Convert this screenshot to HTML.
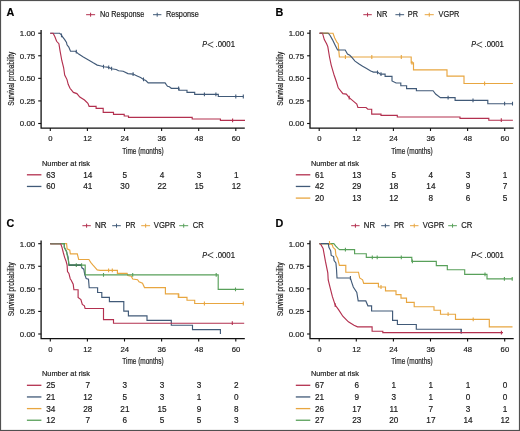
<!DOCTYPE html><html><head><meta charset="utf-8"><style>html,body{margin:0;padding:0;background:#fff;width:520px;height:431px;overflow:hidden}svg text{font-family:"Liberation Sans", sans-serif;stroke:#1a1a1a;stroke-width:0.18px}</style></head><body><svg width="520" height="431" viewBox="0 0 520 431" style="display:block;will-change:transform">
<rect width="520" height="431" fill="#fff"/>
<g transform="translate(0,0)">
<text x="6.60" y="16.40" font-size="10.8" text-anchor="start" fill="#000" font-weight="bold">A</text>
<path d="M86.1 14.7H95.1M90.6 12.7V16.7" stroke="#b3304f" stroke-width="1.0" fill="none"/>
<text x="99.90" y="17.30" font-size="8.2" text-anchor="start" fill="#1a1a1a" textLength="44.400000000000006" lengthAdjust="spacingAndGlyphs">No Response</text>
<path d="M153 14.7H161.4M157.2 12.7V16.7" stroke="#415a78" stroke-width="1.0" fill="none"/>
<text x="165.90" y="17.30" font-size="8.2" text-anchor="start" fill="#1a1a1a" textLength="32.79999999999998" lengthAdjust="spacingAndGlyphs">Response</text>
<path d="M41.1 30V128.1H244.8" stroke="#111" stroke-width="1.3" fill="none"/>
<path d="M38.2 123.50H41.1" stroke="#111" stroke-width="1.1"/>
<text x="35.20" y="126.30" font-size="7.9" text-anchor="end" fill="#1a1a1a">0.00</text>
<path d="M38.2 100.92H41.1" stroke="#111" stroke-width="1.1"/>
<text x="35.20" y="103.72" font-size="7.9" text-anchor="end" fill="#1a1a1a">0.25</text>
<path d="M38.2 78.35H41.1" stroke="#111" stroke-width="1.1"/>
<text x="35.20" y="81.15" font-size="7.9" text-anchor="end" fill="#1a1a1a">0.50</text>
<path d="M38.2 55.78H41.1" stroke="#111" stroke-width="1.1"/>
<text x="35.20" y="58.58" font-size="7.9" text-anchor="end" fill="#1a1a1a">0.75</text>
<path d="M38.2 33.20H41.1" stroke="#111" stroke-width="1.1"/>
<text x="35.20" y="36.00" font-size="7.9" text-anchor="end" fill="#1a1a1a">1.00</text>
<path d="M50.30 128.1V131" stroke="#111" stroke-width="1.1"/>
<text x="50.50" y="141.00" font-size="7.7" text-anchor="middle" fill="#1a1a1a">0</text>
<path d="M87.40 128.1V131" stroke="#111" stroke-width="1.1"/>
<text x="87.60" y="141.00" font-size="7.7" text-anchor="middle" fill="#1a1a1a">12</text>
<path d="M124.50 128.1V131" stroke="#111" stroke-width="1.1"/>
<text x="124.70" y="141.00" font-size="7.7" text-anchor="middle" fill="#1a1a1a">24</text>
<path d="M161.60 128.1V131" stroke="#111" stroke-width="1.1"/>
<text x="161.80" y="141.00" font-size="7.7" text-anchor="middle" fill="#1a1a1a">36</text>
<path d="M198.70 128.1V131" stroke="#111" stroke-width="1.1"/>
<text x="198.90" y="141.00" font-size="7.7" text-anchor="middle" fill="#1a1a1a">48</text>
<path d="M235.80 128.1V131" stroke="#111" stroke-width="1.1"/>
<text x="236.00" y="141.00" font-size="7.7" text-anchor="middle" fill="#1a1a1a">60</text>
<text x="143.00" y="153.90" font-size="8.4" text-anchor="middle" fill="#1a1a1a" textLength="41.5" lengthAdjust="spacingAndGlyphs" stroke="#1a1a1a" stroke-width="0.2">Time (months)</text>
<text transform="translate(14,78.7) rotate(-90)" x="0" y="0" font-size="8.2" text-anchor="middle" fill="#1a1a1a" textLength="54" lengthAdjust="spacingAndGlyphs" stroke="#1a1a1a" stroke-width="0.2">Survival probability</text>
<text x="202.30" y="47.20" font-size="8.2" text-anchor="start" fill="#1a1a1a" textLength="4.8" lengthAdjust="spacingAndGlyphs" font-style="italic">P</text>
<path d="M213.3,41.9 L207.7,44.6 L213.3,47.3" stroke="#222" stroke-width="0.8" fill="none"/>
<text x="215.60" y="47.20" font-size="8.2" text-anchor="start" fill="#1a1a1a" textLength="19.4" lengthAdjust="spacingAndGlyphs">.0001</text>
<text x="42.00" y="165.90" font-size="7.3" text-anchor="start" fill="#1a1a1a" textLength="48" lengthAdjust="spacingAndGlyphs">Number at risk</text>
<path d="M26.9 174.80H41.4" stroke="#b3304f" stroke-width="1.3"/>
<text x="50.70" y="177.70" font-size="8.2" text-anchor="middle" fill="#1a1a1a">63</text>
<text x="87.80" y="177.70" font-size="8.2" text-anchor="middle" fill="#1a1a1a">14</text>
<text x="124.90" y="177.70" font-size="8.2" text-anchor="middle" fill="#1a1a1a">5</text>
<text x="162.00" y="177.70" font-size="8.2" text-anchor="middle" fill="#1a1a1a">4</text>
<text x="199.10" y="177.70" font-size="8.2" text-anchor="middle" fill="#1a1a1a">3</text>
<text x="236.20" y="177.70" font-size="8.2" text-anchor="middle" fill="#1a1a1a">1</text>
<path d="M26.9 186.45H41.4" stroke="#415a78" stroke-width="1.3"/>
<text x="50.70" y="189.35" font-size="8.2" text-anchor="middle" fill="#1a1a1a">60</text>
<text x="87.80" y="189.35" font-size="8.2" text-anchor="middle" fill="#1a1a1a">41</text>
<text x="124.90" y="189.35" font-size="8.2" text-anchor="middle" fill="#1a1a1a">30</text>
<text x="162.00" y="189.35" font-size="8.2" text-anchor="middle" fill="#1a1a1a">22</text>
<text x="199.10" y="189.35" font-size="8.2" text-anchor="middle" fill="#1a1a1a">15</text>
<text x="236.20" y="189.35" font-size="8.2" text-anchor="middle" fill="#1a1a1a">12</text>
</g>
<g transform="translate(268.9,0)">
<text x="6.60" y="16.40" font-size="10.8" text-anchor="start" fill="#000" font-weight="bold">B</text>
<path d="M94.4 14.7H102.9M98.65 12.7V16.7" stroke="#b3304f" stroke-width="1.0" fill="none"/>
<text x="107.60" y="17.30" font-size="8.2" text-anchor="start" fill="#1a1a1a" textLength="10.800000000000011" lengthAdjust="spacingAndGlyphs">NR</text>
<path d="M126.5 14.7H135.2M130.85 12.7V16.7" stroke="#415a78" stroke-width="1.0" fill="none"/>
<text x="138.90" y="17.30" font-size="8.2" text-anchor="start" fill="#1a1a1a" textLength="10.199999999999989" lengthAdjust="spacingAndGlyphs">PR</text>
<path d="M155.8 14.7H164.9M160.35000000000002 12.7V16.7" stroke="#e8a640" stroke-width="1.0" fill="none"/>
<text x="169.70" y="17.30" font-size="8.2" text-anchor="start" fill="#1a1a1a" textLength="20.80000000000001" lengthAdjust="spacingAndGlyphs">VGPR</text>
<path d="M41.1 30V128.1H244.8" stroke="#111" stroke-width="1.3" fill="none"/>
<path d="M38.2 123.50H41.1" stroke="#111" stroke-width="1.1"/>
<text x="35.20" y="126.30" font-size="7.9" text-anchor="end" fill="#1a1a1a">0.00</text>
<path d="M38.2 100.92H41.1" stroke="#111" stroke-width="1.1"/>
<text x="35.20" y="103.72" font-size="7.9" text-anchor="end" fill="#1a1a1a">0.25</text>
<path d="M38.2 78.35H41.1" stroke="#111" stroke-width="1.1"/>
<text x="35.20" y="81.15" font-size="7.9" text-anchor="end" fill="#1a1a1a">0.50</text>
<path d="M38.2 55.78H41.1" stroke="#111" stroke-width="1.1"/>
<text x="35.20" y="58.58" font-size="7.9" text-anchor="end" fill="#1a1a1a">0.75</text>
<path d="M38.2 33.20H41.1" stroke="#111" stroke-width="1.1"/>
<text x="35.20" y="36.00" font-size="7.9" text-anchor="end" fill="#1a1a1a">1.00</text>
<path d="M50.30 128.1V131" stroke="#111" stroke-width="1.1"/>
<text x="50.50" y="141.00" font-size="7.7" text-anchor="middle" fill="#1a1a1a">0</text>
<path d="M87.40 128.1V131" stroke="#111" stroke-width="1.1"/>
<text x="87.60" y="141.00" font-size="7.7" text-anchor="middle" fill="#1a1a1a">12</text>
<path d="M124.50 128.1V131" stroke="#111" stroke-width="1.1"/>
<text x="124.70" y="141.00" font-size="7.7" text-anchor="middle" fill="#1a1a1a">24</text>
<path d="M161.60 128.1V131" stroke="#111" stroke-width="1.1"/>
<text x="161.80" y="141.00" font-size="7.7" text-anchor="middle" fill="#1a1a1a">36</text>
<path d="M198.70 128.1V131" stroke="#111" stroke-width="1.1"/>
<text x="198.90" y="141.00" font-size="7.7" text-anchor="middle" fill="#1a1a1a">48</text>
<path d="M235.80 128.1V131" stroke="#111" stroke-width="1.1"/>
<text x="236.00" y="141.00" font-size="7.7" text-anchor="middle" fill="#1a1a1a">60</text>
<text x="143.00" y="153.90" font-size="8.4" text-anchor="middle" fill="#1a1a1a" textLength="41.5" lengthAdjust="spacingAndGlyphs" stroke="#1a1a1a" stroke-width="0.2">Time (months)</text>
<text transform="translate(14,78.7) rotate(-90)" x="0" y="0" font-size="8.2" text-anchor="middle" fill="#1a1a1a" textLength="54" lengthAdjust="spacingAndGlyphs" stroke="#1a1a1a" stroke-width="0.2">Survival probability</text>
<text x="202.30" y="47.20" font-size="8.2" text-anchor="start" fill="#1a1a1a" textLength="4.8" lengthAdjust="spacingAndGlyphs" font-style="italic">P</text>
<path d="M213.3,41.9 L207.7,44.6 L213.3,47.3" stroke="#222" stroke-width="0.8" fill="none"/>
<text x="215.60" y="47.20" font-size="8.2" text-anchor="start" fill="#1a1a1a" textLength="19.4" lengthAdjust="spacingAndGlyphs">.0001</text>
<text x="42.00" y="165.90" font-size="7.3" text-anchor="start" fill="#1a1a1a" textLength="48" lengthAdjust="spacingAndGlyphs">Number at risk</text>
<path d="M26.9 174.80H41.4" stroke="#b3304f" stroke-width="1.3"/>
<text x="50.70" y="177.70" font-size="8.2" text-anchor="middle" fill="#1a1a1a">61</text>
<text x="87.80" y="177.70" font-size="8.2" text-anchor="middle" fill="#1a1a1a">13</text>
<text x="124.90" y="177.70" font-size="8.2" text-anchor="middle" fill="#1a1a1a">5</text>
<text x="162.00" y="177.70" font-size="8.2" text-anchor="middle" fill="#1a1a1a">4</text>
<text x="199.10" y="177.70" font-size="8.2" text-anchor="middle" fill="#1a1a1a">3</text>
<text x="236.20" y="177.70" font-size="8.2" text-anchor="middle" fill="#1a1a1a">1</text>
<path d="M26.9 186.45H41.4" stroke="#415a78" stroke-width="1.3"/>
<text x="50.70" y="189.35" font-size="8.2" text-anchor="middle" fill="#1a1a1a">42</text>
<text x="87.80" y="189.35" font-size="8.2" text-anchor="middle" fill="#1a1a1a">29</text>
<text x="124.90" y="189.35" font-size="8.2" text-anchor="middle" fill="#1a1a1a">18</text>
<text x="162.00" y="189.35" font-size="8.2" text-anchor="middle" fill="#1a1a1a">14</text>
<text x="199.10" y="189.35" font-size="8.2" text-anchor="middle" fill="#1a1a1a">9</text>
<text x="236.20" y="189.35" font-size="8.2" text-anchor="middle" fill="#1a1a1a">7</text>
<path d="M26.9 198.10H41.4" stroke="#e8a640" stroke-width="1.3"/>
<text x="50.70" y="201.00" font-size="8.2" text-anchor="middle" fill="#1a1a1a">20</text>
<text x="87.80" y="201.00" font-size="8.2" text-anchor="middle" fill="#1a1a1a">13</text>
<text x="124.90" y="201.00" font-size="8.2" text-anchor="middle" fill="#1a1a1a">12</text>
<text x="162.00" y="201.00" font-size="8.2" text-anchor="middle" fill="#1a1a1a">8</text>
<text x="199.10" y="201.00" font-size="8.2" text-anchor="middle" fill="#1a1a1a">6</text>
<text x="236.20" y="201.00" font-size="8.2" text-anchor="middle" fill="#1a1a1a">5</text>
</g>
<g transform="translate(0,210.5)">
<text x="6.60" y="16.40" font-size="10.8" text-anchor="start" fill="#000" font-weight="bold">C</text>
<path d="M82.4 15.2H90.8M86.6 13.2V17.2" stroke="#b3304f" stroke-width="1.0" fill="none"/>
<text x="95.00" y="17.80" font-size="8.2" text-anchor="start" fill="#1a1a1a" textLength="11.5" lengthAdjust="spacingAndGlyphs">NR</text>
<path d="M112.2 15.2H120.8M116.5 13.2V17.2" stroke="#415a78" stroke-width="1.0" fill="none"/>
<text x="125.50" y="17.80" font-size="8.2" text-anchor="start" fill="#1a1a1a" textLength="10.0" lengthAdjust="spacingAndGlyphs">PR</text>
<path d="M141.2 15.2H150.1M145.64999999999998 13.2V17.2" stroke="#e8a640" stroke-width="1.0" fill="none"/>
<text x="153.80" y="17.80" font-size="8.2" text-anchor="start" fill="#1a1a1a" textLength="21.599999999999994" lengthAdjust="spacingAndGlyphs">VGPR</text>
<path d="M179.2 15.2H188.2M183.7 13.2V17.2" stroke="#58a05a" stroke-width="1.0" fill="none"/>
<text x="192.80" y="17.80" font-size="8.2" text-anchor="start" fill="#1a1a1a" textLength="11.0" lengthAdjust="spacingAndGlyphs">CR</text>
<path d="M41.1 30V128.1H244.8" stroke="#111" stroke-width="1.3" fill="none"/>
<path d="M38.2 123.50H41.1" stroke="#111" stroke-width="1.1"/>
<text x="35.20" y="126.30" font-size="7.9" text-anchor="end" fill="#1a1a1a">0.00</text>
<path d="M38.2 100.92H41.1" stroke="#111" stroke-width="1.1"/>
<text x="35.20" y="103.72" font-size="7.9" text-anchor="end" fill="#1a1a1a">0.25</text>
<path d="M38.2 78.35H41.1" stroke="#111" stroke-width="1.1"/>
<text x="35.20" y="81.15" font-size="7.9" text-anchor="end" fill="#1a1a1a">0.50</text>
<path d="M38.2 55.78H41.1" stroke="#111" stroke-width="1.1"/>
<text x="35.20" y="58.58" font-size="7.9" text-anchor="end" fill="#1a1a1a">0.75</text>
<path d="M38.2 33.20H41.1" stroke="#111" stroke-width="1.1"/>
<text x="35.20" y="36.00" font-size="7.9" text-anchor="end" fill="#1a1a1a">1.00</text>
<path d="M50.30 128.1V131" stroke="#111" stroke-width="1.1"/>
<text x="50.50" y="141.00" font-size="7.7" text-anchor="middle" fill="#1a1a1a">0</text>
<path d="M87.40 128.1V131" stroke="#111" stroke-width="1.1"/>
<text x="87.60" y="141.00" font-size="7.7" text-anchor="middle" fill="#1a1a1a">12</text>
<path d="M124.50 128.1V131" stroke="#111" stroke-width="1.1"/>
<text x="124.70" y="141.00" font-size="7.7" text-anchor="middle" fill="#1a1a1a">24</text>
<path d="M161.60 128.1V131" stroke="#111" stroke-width="1.1"/>
<text x="161.80" y="141.00" font-size="7.7" text-anchor="middle" fill="#1a1a1a">36</text>
<path d="M198.70 128.1V131" stroke="#111" stroke-width="1.1"/>
<text x="198.90" y="141.00" font-size="7.7" text-anchor="middle" fill="#1a1a1a">48</text>
<path d="M235.80 128.1V131" stroke="#111" stroke-width="1.1"/>
<text x="236.00" y="141.00" font-size="7.7" text-anchor="middle" fill="#1a1a1a">60</text>
<text x="143.00" y="153.90" font-size="8.4" text-anchor="middle" fill="#1a1a1a" textLength="41.5" lengthAdjust="spacingAndGlyphs" stroke="#1a1a1a" stroke-width="0.2">Time (months)</text>
<text transform="translate(14,78.7) rotate(-90)" x="0" y="0" font-size="8.2" text-anchor="middle" fill="#1a1a1a" textLength="54" lengthAdjust="spacingAndGlyphs" stroke="#1a1a1a" stroke-width="0.2">Survival probability</text>
<text x="202.30" y="47.20" font-size="8.2" text-anchor="start" fill="#1a1a1a" textLength="4.8" lengthAdjust="spacingAndGlyphs" font-style="italic">P</text>
<path d="M213.3,41.9 L207.7,44.6 L213.3,47.3" stroke="#222" stroke-width="0.8" fill="none"/>
<text x="215.60" y="47.20" font-size="8.2" text-anchor="start" fill="#1a1a1a" textLength="19.4" lengthAdjust="spacingAndGlyphs">.0001</text>
<text x="42.00" y="165.90" font-size="7.3" text-anchor="start" fill="#1a1a1a" textLength="48" lengthAdjust="spacingAndGlyphs">Number at risk</text>
<path d="M26.9 174.80H41.4" stroke="#b3304f" stroke-width="1.3"/>
<text x="50.70" y="177.70" font-size="8.2" text-anchor="middle" fill="#1a1a1a">25</text>
<text x="87.80" y="177.70" font-size="8.2" text-anchor="middle" fill="#1a1a1a">7</text>
<text x="124.90" y="177.70" font-size="8.2" text-anchor="middle" fill="#1a1a1a">3</text>
<text x="162.00" y="177.70" font-size="8.2" text-anchor="middle" fill="#1a1a1a">3</text>
<text x="199.10" y="177.70" font-size="8.2" text-anchor="middle" fill="#1a1a1a">3</text>
<text x="236.20" y="177.70" font-size="8.2" text-anchor="middle" fill="#1a1a1a">2</text>
<path d="M26.9 186.45H41.4" stroke="#415a78" stroke-width="1.3"/>
<text x="50.70" y="189.35" font-size="8.2" text-anchor="middle" fill="#1a1a1a">21</text>
<text x="87.80" y="189.35" font-size="8.2" text-anchor="middle" fill="#1a1a1a">12</text>
<text x="124.90" y="189.35" font-size="8.2" text-anchor="middle" fill="#1a1a1a">5</text>
<text x="162.00" y="189.35" font-size="8.2" text-anchor="middle" fill="#1a1a1a">3</text>
<text x="199.10" y="189.35" font-size="8.2" text-anchor="middle" fill="#1a1a1a">1</text>
<text x="236.20" y="189.35" font-size="8.2" text-anchor="middle" fill="#1a1a1a">0</text>
<path d="M26.9 198.10H41.4" stroke="#e8a640" stroke-width="1.3"/>
<text x="50.70" y="201.00" font-size="8.2" text-anchor="middle" fill="#1a1a1a">34</text>
<text x="87.80" y="201.00" font-size="8.2" text-anchor="middle" fill="#1a1a1a">28</text>
<text x="124.90" y="201.00" font-size="8.2" text-anchor="middle" fill="#1a1a1a">21</text>
<text x="162.00" y="201.00" font-size="8.2" text-anchor="middle" fill="#1a1a1a">15</text>
<text x="199.10" y="201.00" font-size="8.2" text-anchor="middle" fill="#1a1a1a">9</text>
<text x="236.20" y="201.00" font-size="8.2" text-anchor="middle" fill="#1a1a1a">8</text>
<path d="M26.9 209.75H41.4" stroke="#58a05a" stroke-width="1.3"/>
<text x="50.70" y="212.65" font-size="8.2" text-anchor="middle" fill="#1a1a1a">12</text>
<text x="87.80" y="212.65" font-size="8.2" text-anchor="middle" fill="#1a1a1a">7</text>
<text x="124.90" y="212.65" font-size="8.2" text-anchor="middle" fill="#1a1a1a">6</text>
<text x="162.00" y="212.65" font-size="8.2" text-anchor="middle" fill="#1a1a1a">5</text>
<text x="199.10" y="212.65" font-size="8.2" text-anchor="middle" fill="#1a1a1a">5</text>
<text x="236.20" y="212.65" font-size="8.2" text-anchor="middle" fill="#1a1a1a">3</text>
</g>
<g transform="translate(268.9,210.5)">
<text x="6.60" y="16.40" font-size="10.8" text-anchor="start" fill="#000" font-weight="bold">D</text>
<path d="M82.3 15.2H90.7M86.5 13.2V17.2" stroke="#b3304f" stroke-width="1.0" fill="none"/>
<text x="94.90" y="17.80" font-size="8.2" text-anchor="start" fill="#1a1a1a" textLength="11.199999999999989" lengthAdjust="spacingAndGlyphs">NR</text>
<path d="M112.3 15.2H120.7M116.5 13.2V17.2" stroke="#415a78" stroke-width="1.0" fill="none"/>
<text x="125.00" y="17.80" font-size="8.2" text-anchor="start" fill="#1a1a1a" textLength="10.300000000000011" lengthAdjust="spacingAndGlyphs">PR</text>
<path d="M141.1 15.2H149.6M145.35 13.2V17.2" stroke="#e8a640" stroke-width="1.0" fill="none"/>
<text x="153.90" y="17.80" font-size="8.2" text-anchor="start" fill="#1a1a1a" textLength="21.5" lengthAdjust="spacingAndGlyphs">VGPR</text>
<path d="M179.3 15.2H188.0M183.65 13.2V17.2" stroke="#58a05a" stroke-width="1.0" fill="none"/>
<text x="192.30" y="17.80" font-size="8.2" text-anchor="start" fill="#1a1a1a" textLength="11.099999999999994" lengthAdjust="spacingAndGlyphs">CR</text>
<path d="M41.1 30V128.1H244.8" stroke="#111" stroke-width="1.3" fill="none"/>
<path d="M38.2 123.50H41.1" stroke="#111" stroke-width="1.1"/>
<text x="35.20" y="126.30" font-size="7.9" text-anchor="end" fill="#1a1a1a">0.00</text>
<path d="M38.2 100.92H41.1" stroke="#111" stroke-width="1.1"/>
<text x="35.20" y="103.72" font-size="7.9" text-anchor="end" fill="#1a1a1a">0.25</text>
<path d="M38.2 78.35H41.1" stroke="#111" stroke-width="1.1"/>
<text x="35.20" y="81.15" font-size="7.9" text-anchor="end" fill="#1a1a1a">0.50</text>
<path d="M38.2 55.78H41.1" stroke="#111" stroke-width="1.1"/>
<text x="35.20" y="58.58" font-size="7.9" text-anchor="end" fill="#1a1a1a">0.75</text>
<path d="M38.2 33.20H41.1" stroke="#111" stroke-width="1.1"/>
<text x="35.20" y="36.00" font-size="7.9" text-anchor="end" fill="#1a1a1a">1.00</text>
<path d="M50.30 128.1V131" stroke="#111" stroke-width="1.1"/>
<text x="50.50" y="141.00" font-size="7.7" text-anchor="middle" fill="#1a1a1a">0</text>
<path d="M87.40 128.1V131" stroke="#111" stroke-width="1.1"/>
<text x="87.60" y="141.00" font-size="7.7" text-anchor="middle" fill="#1a1a1a">12</text>
<path d="M124.50 128.1V131" stroke="#111" stroke-width="1.1"/>
<text x="124.70" y="141.00" font-size="7.7" text-anchor="middle" fill="#1a1a1a">24</text>
<path d="M161.60 128.1V131" stroke="#111" stroke-width="1.1"/>
<text x="161.80" y="141.00" font-size="7.7" text-anchor="middle" fill="#1a1a1a">36</text>
<path d="M198.70 128.1V131" stroke="#111" stroke-width="1.1"/>
<text x="198.90" y="141.00" font-size="7.7" text-anchor="middle" fill="#1a1a1a">48</text>
<path d="M235.80 128.1V131" stroke="#111" stroke-width="1.1"/>
<text x="236.00" y="141.00" font-size="7.7" text-anchor="middle" fill="#1a1a1a">60</text>
<text x="143.00" y="153.90" font-size="8.4" text-anchor="middle" fill="#1a1a1a" textLength="41.5" lengthAdjust="spacingAndGlyphs" stroke="#1a1a1a" stroke-width="0.2">Time (months)</text>
<text transform="translate(14,78.7) rotate(-90)" x="0" y="0" font-size="8.2" text-anchor="middle" fill="#1a1a1a" textLength="54" lengthAdjust="spacingAndGlyphs" stroke="#1a1a1a" stroke-width="0.2">Survival probability</text>
<text x="202.30" y="47.20" font-size="8.2" text-anchor="start" fill="#1a1a1a" textLength="4.8" lengthAdjust="spacingAndGlyphs" font-style="italic">P</text>
<path d="M213.3,41.9 L207.7,44.6 L213.3,47.3" stroke="#222" stroke-width="0.8" fill="none"/>
<text x="215.60" y="47.20" font-size="8.2" text-anchor="start" fill="#1a1a1a" textLength="19.4" lengthAdjust="spacingAndGlyphs">.0001</text>
<text x="42.00" y="165.90" font-size="7.3" text-anchor="start" fill="#1a1a1a" textLength="48" lengthAdjust="spacingAndGlyphs">Number at risk</text>
<path d="M26.9 174.80H41.4" stroke="#b3304f" stroke-width="1.3"/>
<text x="50.70" y="177.70" font-size="8.2" text-anchor="middle" fill="#1a1a1a">67</text>
<text x="87.80" y="177.70" font-size="8.2" text-anchor="middle" fill="#1a1a1a">6</text>
<text x="124.90" y="177.70" font-size="8.2" text-anchor="middle" fill="#1a1a1a">1</text>
<text x="162.00" y="177.70" font-size="8.2" text-anchor="middle" fill="#1a1a1a">1</text>
<text x="199.10" y="177.70" font-size="8.2" text-anchor="middle" fill="#1a1a1a">1</text>
<text x="236.20" y="177.70" font-size="8.2" text-anchor="middle" fill="#1a1a1a">0</text>
<path d="M26.9 186.45H41.4" stroke="#415a78" stroke-width="1.3"/>
<text x="50.70" y="189.35" font-size="8.2" text-anchor="middle" fill="#1a1a1a">21</text>
<text x="87.80" y="189.35" font-size="8.2" text-anchor="middle" fill="#1a1a1a">9</text>
<text x="124.90" y="189.35" font-size="8.2" text-anchor="middle" fill="#1a1a1a">3</text>
<text x="162.00" y="189.35" font-size="8.2" text-anchor="middle" fill="#1a1a1a">1</text>
<text x="199.10" y="189.35" font-size="8.2" text-anchor="middle" fill="#1a1a1a">0</text>
<text x="236.20" y="189.35" font-size="8.2" text-anchor="middle" fill="#1a1a1a">0</text>
<path d="M26.9 198.10H41.4" stroke="#e8a640" stroke-width="1.3"/>
<text x="50.70" y="201.00" font-size="8.2" text-anchor="middle" fill="#1a1a1a">26</text>
<text x="87.80" y="201.00" font-size="8.2" text-anchor="middle" fill="#1a1a1a">17</text>
<text x="124.90" y="201.00" font-size="8.2" text-anchor="middle" fill="#1a1a1a">11</text>
<text x="162.00" y="201.00" font-size="8.2" text-anchor="middle" fill="#1a1a1a">7</text>
<text x="199.10" y="201.00" font-size="8.2" text-anchor="middle" fill="#1a1a1a">3</text>
<text x="236.20" y="201.00" font-size="8.2" text-anchor="middle" fill="#1a1a1a">1</text>
<path d="M26.9 209.75H41.4" stroke="#58a05a" stroke-width="1.3"/>
<text x="50.70" y="212.65" font-size="8.2" text-anchor="middle" fill="#1a1a1a">27</text>
<text x="87.80" y="212.65" font-size="8.2" text-anchor="middle" fill="#1a1a1a">23</text>
<text x="124.90" y="212.65" font-size="8.2" text-anchor="middle" fill="#1a1a1a">20</text>
<text x="162.00" y="212.65" font-size="8.2" text-anchor="middle" fill="#1a1a1a">17</text>
<text x="199.10" y="212.65" font-size="8.2" text-anchor="middle" fill="#1a1a1a">14</text>
<text x="236.20" y="212.65" font-size="8.2" text-anchor="middle" fill="#1a1a1a">12</text>
</g>
<path d="M50.2,33.2 H59.6 L61.2,34.6 L62.4,36.7 L64.7,39.6 L66.5,42.5 L67,44.8 L68.8,47.1 L70.5,51.2 H75.5 L78.7,54.1 L83.3,57 L88.5,59.9 L93.2,62.8 L97.2,65.1 L100,65.7 L104.2,66.8 L108.7,67.4 L111.6,68.7 L116.2,69.5 L118.6,70.7 L123.2,71.2 L127.9,73.6 L133.1,74.1 L137.1,75.9 L140.6,77.6 L143.5,79.4 L145.8,80.5 L148.2,82.9 H165.1 L166.1,84.4 L167.5,86.3 L169.4,86.8 L171.3,88.3 H179 V90.2 H187 V92.3 H194.7 V94.4 H218.3 V96.5 H243.3" stroke="#415a78" stroke-width="1.15" fill="none"/>
<path d="M61.5,33.4V37.199999999999996M76.3,49.7V53.5M103.5,64.69999999999999V68.5M108.7,65.39999999999999V69.2M111.6,66.8V70.60000000000001M133.1,72.19999999999999V76.0M143.5,77.5V81.30000000000001M178.6,86.39999999999999V90.2M204.4,92.5V96.30000000000001M215.9,92.5V96.30000000000001M235.8,94.6V98.4M243.3,94.6V98.4" stroke="#415a78" stroke-width="1.1" fill="none"/>
<path d="M50.2,33.2 H53.1 L54.9,36.7 L56.6,41.3 L58.9,43.7 L60.1,51.2 L61.8,60.5 L63.6,67.5 L64.7,75 L67,79.6 L68.2,84.3 L70,88.3 L73.4,92.4 L76.9,93.6 L79.8,97 L84.5,100 L87.9,103.4 L89.1,106.3 H96.1 V108.3 H103.2 V112.3 H113.5 V114.4 H124.2 V116 H128.5 V117.4 H192.2 V119 H220.4 V120.4 H245" stroke="#b3304f" stroke-width="1.15" fill="none"/>
<path d="M232.6,118.5V122.30000000000001" stroke="#b3304f" stroke-width="1.1" fill="none"/>
<path d="M319.6,33.2 H333 L334.7,37.9 L337,42.5 L338.2,43.7 L338.8,50.6 L339.4,57 H411.2 V62.8 H413.5 V69.8 H447 V76.1 H464 V83.5 H512.9" stroke="#e8a640" stroke-width="1.15" fill="none"/>
<path d="M345.4,55.1V58.9M371.8,55.1V58.9M401.3,55.1V58.9M412,60.9V64.7M484.6,81.6V85.4" stroke="#e8a640" stroke-width="1.1" fill="none"/>
<path d="M319.6,33.2 H328.3 L330.1,35.5 L332.4,39.6 L335.3,45.4 L337.6,50 H345.2 L347.5,54.1 L349.8,55.3 L352.1,57.6 L355,61.1 L359.1,64 L362.6,66.3 L366.6,68.6 L370.7,71 L373.5,72.1 H377.5 L380.4,74.1 H385.1 V76.4 H392 V81 L396.1,83 H400.8 V85.7 H406.6 V88.6 H416.4 V90.7 H433.1 L435.6,94 L440.4,97.6 H455.1 V100.3 H487.8 V103.7 H512.5" stroke="#415a78" stroke-width="1.15" fill="none"/>
<path d="M377.5,70.39999999999999V74.2M381,72.3V76.10000000000001M448.1,95.69999999999999V99.5M473,98.39999999999999V102.2M504.6,101.8V105.60000000000001M512.5,101.8V105.60000000000001" stroke="#415a78" stroke-width="1.1" fill="none"/>
<path d="M319.6,33.2 H322.5 L324.3,39.6 L326.6,43.7 L327.8,46.6 L329.5,57 L331.2,65.1 L333.6,73.3 L334.1,75 L336.5,82 L338.2,87.8 L342.9,93.6 L346.3,94.1 L349.2,97.6 L353.3,101.1 L356.8,104 L357.9,107.5 H366.1 L367.8,109.2 H371.7 V114.1 H381 V115.3 H397.3 V117 H460 V118.4 H488.8 V120.2 H512.9" stroke="#b3304f" stroke-width="1.15" fill="none"/>
<path d="M349.2,95.69999999999999V99.5M501.3,118.3V122.10000000000001" stroke="#b3304f" stroke-width="1.1" fill="none"/>
<path d="M50.2,243.6 H66.6 L67.1,248.8 L69.8,250.2 L70.3,253.9 H77.3 L78.7,259.5 H88.9 L90.7,262.3 L93,265.1 L95,267.4 L97.2,269.9 L100,270.3 H117.4 V273.4 H127.1 L127.8,275.5 L131.3,276.2 L132.7,279 L137.6,279.7 L139,281.8 L142.5,283.2 L144.5,287.6 H165.4 V293.8 H178.3 V297.3 H187 V300.2 H194.7 V303.5 H243.8" stroke="#e8a640" stroke-width="1.15" fill="none"/>
<path d="M108.6,268.40000000000003V272.2M112.3,268.40000000000003V272.2M178.8,293.6V297.4M204.4,301.6V305.4M243.3,301.6V305.4" stroke="#e8a640" stroke-width="1.1" fill="none"/>
<path d="M50.2,243.6 H64.3 V247.4 L66.6,251.6 L67.1,253.9 L68,256.7 L68.9,265.1 H81 L81.9,267.8 L83.8,269.2 L84.7,274.3 L86.2,278.6 L88.5,279.2 L89.2,287.7 H97.6 V292.5 H101.8 V297.4 H109.4 V301.6 H123.8 V311.1 H128.4 V315.8 H147 V320.4 H171.3 V325.2 H192.5 V329.6 H220.4 V334" stroke="#415a78" stroke-width="1.15" fill="none"/>
<path d="M50.2,243.6 H64.3 V247.4 L66.6,251.6 L67.5,256.7 L68.5,260.4 L68.9,265.1 H85.2 V274.8 H218.2 V289.3 H243.8" stroke="#58a05a" stroke-width="1.15" fill="none"/>
<path d="M76.3,263.20000000000005V267.0M81.6,263.20000000000005V267.0M103.5,272.90000000000003V276.7M132.7,272.90000000000003V276.7M216.2,272.90000000000003V276.7M235.5,287.40000000000003V291.2" stroke="#58a05a" stroke-width="1.1" fill="none"/>
<path d="M68.9,265.1 H81.5" stroke="#3b6a58" stroke-width="1.15" fill="none"/>
<path d="M50.2,243.6 H60.6 L62,247.4 L63.4,253 L64.7,257.6 L66.1,261.3 L67.1,265.1 L67.5,271.6 L68.9,273.4 L70.3,279 L71.1,280 L73.2,284.2 L73.9,289.7 H78.1 V297.4 L80.9,299.5 L82.3,304.4 L84.4,305.8 L85.1,308.5 H103.5 V319.6 H113.5 V323.2 H244.2" stroke="#b3304f" stroke-width="1.15" fill="none"/>
<path d="M232.3,321.3V325.09999999999997" stroke="#b3304f" stroke-width="1.1" fill="none"/>
<path d="M319.6,243.6 H333.8 L335.8,246.2 L338,248.4 L339.6,249.6 H354.6 V253.7 H366.3 V257.4 H411.8 V261.4 H436.3 V265.6 H447.3 V269.7 H464.7 V274.4 H487 V278.8 H512.5" stroke="#58a05a" stroke-width="1.15" fill="none"/>
<path d="M345.4,247.7V251.5M372.3,255.49999999999997V259.29999999999995M377.2,255.49999999999997V259.29999999999995M401.3,255.49999999999997V259.29999999999995M412.4,259.5V263.29999999999995M485,272.5V276.29999999999995M504.4,276.90000000000003V280.7M512.2,276.90000000000003V280.7" stroke="#58a05a" stroke-width="1.1" fill="none"/>
<path d="M319.6,243.6 H329.5 L332.4,245 L333,247.3 L335.3,249.6 L335.9,255.4 L337.6,258.3 L339.4,265.3 H345.8 V272.2 H358.5 L359.7,278 L362.6,279.8 L363.7,283.4 H378.4 V287 H385.5 V290.9 H396 V294.6 H401 V298.1 H406.5 V302.3 H414.2 V306.7 H434 V310.2 H440.5 V314.2 H455.5 V319.3 H489.3 V326.8 H512.5" stroke="#e8a640" stroke-width="1.15" fill="none"/>
<path d="M329.5,241.1V244.9M381,285.1V288.9M448.1,312.3V316.09999999999997M473.2,317.40000000000003V321.2" stroke="#e8a640" stroke-width="1.1" fill="none"/>
<path d="M319.6,243.6 H328.3 L328.9,247.3 L330.7,250.8 L331.2,255.4 L333.6,256.6 L334.1,260.6 L335.9,263 L336.5,269.3 L337,278 H350.4 L351.9,282.8 L353.3,287 L356.8,292.5 L358.2,300.9 H365.8 L367.9,305.8 H371.6 V311 H392.6 V320.4 H397.4 V324.5 H416.3 V329.2 H461.2 V333.8" stroke="#415a78" stroke-width="1.15" fill="none"/>
<path d="M350.4,276.1V279.9M461.2,329.1V332.9" stroke="#415a78" stroke-width="1.1" fill="none"/>
<path d="M319.6,243.6 L320.8,244.4 L323.1,248.4 L325.4,261.2 L327.8,272.8 L328.2,280 L330.3,288.4 L332.4,296.7 L335.2,305.1 L338.7,309.9 L342.8,316.2 L348.4,321.8 L354,325.2 L357.5,326.8 H372.1 V331.2 H382.8 V332.6 H503" stroke="#b3304f" stroke-width="1.15" fill="none"/>
<path d="M335.2,303.20000000000005V307.0M501.4,330.70000000000005V334.5" stroke="#b3304f" stroke-width="1.1" fill="none"/>
<path d="M50.2,243.6 H60.6" stroke="#7f7563" stroke-width="1.15" fill="none"/>
<path d="M319.6,243.6 H321" stroke="#7f7563" stroke-width="1.15" fill="none"/>
<path d="M319.6,33.2 H322.5" stroke="#8a5a58" stroke-width="1.15" fill="none"/>
<path d="M322.5,33.2 H328.3" stroke="#9a8050" stroke-width="1.15" fill="none"/>
<rect x="0.5" y="0.5" width="519" height="430" fill="none" stroke="#505050" stroke-width="1.2"/>
</svg></body></html>
